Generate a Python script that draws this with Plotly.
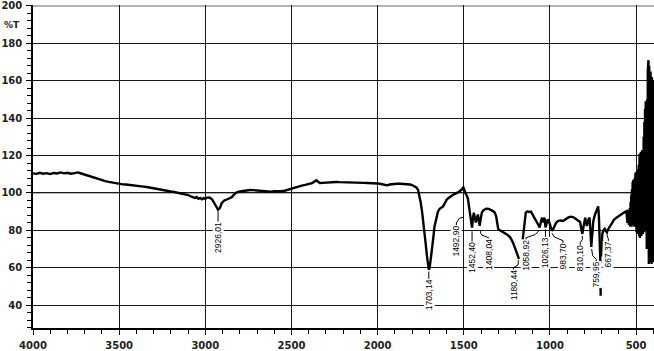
import plotly.graph_objects as go

# ---------------- data ----------------
wavenumber = [
    4000, 3980, 3960, 3940, 3920, 3900, 3880, 3860, 3840, 3820, 3800, 3780, 3760, 3740, 3720,
    3700, 3680, 3660, 3640, 3620, 3600, 3580, 3560, 3540, 3520, 3500, 3480, 3460, 3440, 3420,
    3400, 3380, 3360, 3340, 3320, 3300, 3280, 3260, 3240, 3220, 3200, 3180, 3160, 3140, 3120,
    3100, 3080, 3060, 3050, 3040, 3030, 3020, 3010, 3000, 2990, 2975, 2960, 2945, 2935, 2926,
    2915, 2905, 2890, 2875, 2860, 2845, 2835, 2820, 2800, 2780, 2760, 2740, 2720, 2700, 2680,
    2660, 2640, 2620, 2600, 2580, 2560, 2540, 2520, 2500, 2480, 2460, 2440, 2420, 2400, 2380,
    2365, 2355, 2345, 2335, 2320, 2300, 2280, 2260, 2240, 2220, 2200, 2180, 2160, 2140, 2120,
    2100, 2080, 2060, 2040, 2020, 2000, 1980, 1960, 1945, 1930, 1910, 1890, 1870, 1850, 1830,
    1810, 1795, 1785, 1775, 1765, 1758, 1750, 1742, 1735, 1728, 1720, 1714, 1708, 1703, 1698,
    1692, 1686, 1678, 1670, 1660, 1650, 1640, 1630, 1620, 1610, 1600, 1590, 1580, 1570, 1560,
    1550, 1540, 1530, 1520, 1510, 1503, 1498, 1493, 1488, 1482, 1476, 1470, 1465, 1460, 1455,
    1452, 1448, 1442, 1436, 1430, 1424, 1418, 1413, 1408, 1402, 1395, 1385, 1370, 1355, 1340,
    1330, 1320, 1312, 1306, 1300, 1290, 1275, 1260, 1245, 1232, 1220, 1205, 1195, 1185, 1180,
    None,
    1160, 1155, 1148, 1140, 1130, 1120, 1110, 1100, 1090, 1078, 1068, 1060, 1052, 1046, 1040,
    1034, 1030, 1026, 1018, 1012, 1005, 1000, 994, 988, 982, 975, 965, 953, 940, 924,
    910, 895, 880, 866, 855, 847, 835, 825, 818, 812, 806, 800, 795, 790, 785,
    778, 770, 765, 762, 760, 757, 752, 748, 740, 730, 724, 720, 716, 712, 709, 707,
    None,
    706, 705.5,
    None,
    703, 700, 696, 690, 682, 675, 669, 665, 658, 650, 643, 630, 614, 600, 585, 570,
    556, 554, 552, 550, 548, 546, 544, 542, 540, 538, 536, 534, 532, 530, 528, 526, 524, 522,
    520, 518, 516, 514, 512, 510, 508, 506, 504, 502, 500, 498, 496, 494, 492, 490, 488, 486,
    484, 482, 480, 478, 476, 474, 472, 470, 468, 466, 464, 462, 460, 458, 456, 454, 452, 450,
    448, 446, 444, 442, 440, 438, 436, 434, 432, 430, 428, 426, 424, 422, 420, 418, 416, 414,
    412, 410, 408, 406, 404, 402, 400, 398, 396,
]
transmittance = [
    110.5, 110.2, 110.8, 110.3, 110.6, 110.1, 110.7, 110.4, 111.0, 110.5, 110.8, 110.3, 110.6, 111.0, 110.4,
    109.8, 109.0, 108.5, 108.0, 107.3, 106.8, 106.3, 105.9, 105.5, 105.2, 104.9, 104.6, 104.5, 104.2, 104.0,
    103.9, 103.6, 103.4, 103.2, 102.8, 102.4, 102.1, 101.7, 101.4, 101.1, 100.8, 100.5, 100.2, 99.9, 99.4,
    98.9, 98.0, 97.3, 97.8, 96.9, 97.4, 96.6, 97.2, 96.8, 97.5, 97.6, 96.5, 94.5, 92.5, 91.0,
    92.0, 94.5, 96.0, 96.5, 97.3, 97.8, 99.0, 100.2, 100.8, 101.2, 101.4, 101.6, 101.5, 101.3, 101.0,
    100.8, 100.6, 100.7, 100.9, 100.8, 100.9, 101.2, 101.8, 102.4, 103.0, 103.5, 103.9, 104.3, 104.7, 105.3,
    106.2, 106.8, 106.0, 105.3, 105.4, 105.6, 105.8, 105.9, 105.9, 105.8, 105.8, 105.7, 105.6, 105.6, 105.5,
    105.5, 105.4, 105.3, 105.3, 105.2, 105.1, 104.8, 104.4, 104.1, 104.5, 104.8, 104.9, 104.9, 104.9, 104.8,
    104.5, 104.0, 103.4, 103.0, 101.5, 99.0, 95.0, 90.0, 85.0, 79.0, 72.0, 66.5, 62.0, 59.0, 60.0,
    64.0, 68.5, 75.0, 82.0, 87.0, 90.0, 91.5, 92.0, 92.8, 94.5, 96.3, 97.2, 98.0, 98.8, 99.2,
    99.5, 99.8, 100.5, 101.2, 102.0, 103.2, 101.5, 100.5, 99.5, 98.5, 97.0, 93.0, 89.0, 85.0, 82.0,
    81.5, 85.5, 89.4, 87.0, 84.2, 86.5, 88.5, 85.5, 82.4, 86.0, 89.5, 90.8, 91.6, 91.5, 91.0,
    90.3, 89.5, 87.5, 84.0, 80.8, 80.0, 79.2, 78.3, 77.5, 76.4, 74.5, 71.2, 68.5, 65.5, 64.8,
    None,
    73.5, 78.0, 85.0, 89.5, 90.2, 89.8, 90.0, 88.5, 87.0, 85.0, 83.0, 81.6, 85.5, 86.8, 84.2,
    86.8, 86.0, 81.6, 84.0, 85.9, 84.5, 83.3, 81.0, 79.8, 80.5, 82.0, 84.0, 85.0, 85.3, 85.0,
    86.0, 86.8, 87.3, 87.1, 86.5, 85.9, 85.2, 84.5, 81.0, 78.1, 81.5, 86.0, 86.8, 84.0, 82.4,
    85.5, 86.8, 80.0, 74.0, 71.2, 75.0, 82.0, 85.0, 88.0, 90.2, 92.0, 92.8, 88.0, 75.0, 65.0, 62.5,
    None,
    49.5, 45.0,
    None,
    66.0, 73.0, 78.1, 80.0, 80.8, 79.5, 79.0, 80.0, 81.5, 82.5, 83.3, 85.5, 86.8, 87.8, 88.5, 89.5,
    90.2, 86.0, 89.0, 84.0, 90.0, 85.0, 91.0, 83.0, 89.0, 84.0, 92.0, 82.0, 95.0, 83.0, 99.0, 82.0, 102.0, 84.0,
    106.0, 83.0, 107.0, 85.0, 105.0, 82.0, 108.0, 84.0, 110.0, 81.0, 111.0, 79.0, 109.0, 80.0, 112.0, 78.0, 110.0, 81.0,
    115.0, 77.0, 121.0, 76.0, 118.0, 80.0, 122.0, 77.0, 119.0, 82.0, 123.0, 78.0, 120.0, 81.0, 130.0, 79.0, 138.0, 83.0,
    145.0, 80.0, 149.0, 84.0, 140.0, 70.0, 150.0, 75.0, 165.0, 66.0, 171.0, 62.0, 168.0, 70.0, 160.0, 63.0, 165.0, 72.0,
    158.0, 62.0, 162.0, 68.0, 155.0, 63.0, 160.0, 66.0, 150.0,
]

x_ticks = [4000, 3500, 3000, 2500, 2000, 1500, 1000, 500]
y_ticks = [40, 60, 80, 100, 120, 140, 160, 180, 200]

peak_labels = ["2926,01", "1703,14", "1492,90", "1452,40", "1408,04", "1180,44",
               "1058,92", "1026,13", "983,70", "810,10", "759,95", "667,37"]

# ---------------- label layout (text centre and leader lines) ----------------
label_x = [2926, 1703, 1543, 1448, 1355, 1212, 1139, 1028, 924, 824, 731, 661]
label_y = [76.0, 45.7, 74.2, 65.6, 67.3, 50.9, 66.9, 67.8, 66.0, 65.2, 56.5, 67.3]
leader_x = [
    [2926, 2926],
    [1703, 1703],
    [1543, 1543, 1525, 1500],
    [1452, 1452],
    [1355, 1355, 1395, 1402, 1402],
    [1212, 1212, 1185, 1183],
    [1139, 1139, 1085, 1062],
    [1026, 1026],
    [924, 924, 975, 988],
    [824, 824, 812, 812],
    [731, 731, 752, 758],
    [661, 661, 668, 668],
]
leader_y = [
    [90.0, 84.2],
    [58.0, 53.7],
    [82.2, 84.0, 86.5, 87.0],
    [79.5, 73.6],
    [75.3, 76.0, 77.5, 78.5, 80.0],
    [58.9, 60.0, 61.5, 64.0],
    [74.9, 76.0, 77.8, 80.0],
    [80.5, 75.8],
    [72.9, 74.5, 76.5, 78.5],
    [72.1, 73.5, 75.0, 77.0],
    [63.4, 64.5, 66.5, 70.0],
    [74.2, 75.5, 77.0, 78.5],
]

fig = go.Figure()

fig.add_trace(go.Scatter(
    x=wavenumber, y=transmittance, mode="lines",
    line=dict(color="black", width=2.4), connectgaps=False,
    hoverinfo="skip", showlegend=False,
))

for lx, ly in zip(leader_x, leader_y):
    fig.add_trace(go.Scatter(
        x=lx, y=ly, mode="lines", line=dict(color="black", width=1),
        hoverinfo="skip", showlegend=False,
    ))

for txt, lx, ly in zip(peak_labels, label_x, label_y):
    fig.add_annotation(
        x=lx, y=ly, xref="x", yref="y", text=txt, showarrow=False,
        textangle=-90, xanchor="center", yanchor="middle",
        font=dict(family="Liberation Sans", size=8.5, color="black"),
        bgcolor="white", borderpad=0,
    )

fig.add_annotation(
    x=-0.034, xref="paper", y=189.6, yref="y", text="%T", showarrow=False,
    xanchor="center", yanchor="middle",
    font=dict(family="DejaVu Sans", size=9, color="#222", weight="bold"),
)

# grey lines at 100 and 200
for gy in [100, 200]:
    fig.add_shape(type="line", xref="paper", x0=0, x1=1, yref="y", y0=gy, y1=gy,
                  line=dict(color="#9a9a9a", width=1.5), layer="between")

tickfont = dict(family="DejaVu Sans", size=10, color="#222", weight="bold")

fig.update_xaxes(
    range=[4000, 396], tickvals=x_ticks, ticktext=[str(v) for v in x_ticks],
    showgrid=True, gridcolor="#1a1a1a", gridwidth=1.2,
    showline=True, linecolor="black", linewidth=1.5,
    ticks="outside", ticklen=5, tickwidth=1, tickcolor="black",
    tickfont=tickfont, ticklabelstandoff=2, ticklabeloverflow="allow",
    minor=dict(dtick=100, tick0=0, ticks="outside", ticklen=4, tickcolor="black",
               tickwidth=1, showgrid=False),
    zeroline=False,
)
fig.update_yaxes(
    range=[27.8, 200.5], tickvals=y_ticks, ticktext=[str(v) for v in y_ticks],
    showgrid=True, gridcolor="#1a1a1a", gridwidth=1,
    showline=True, linecolor="black", linewidth=1.5,
    ticks="outside", ticklen=5, tickwidth=1, tickcolor="black",
    tickfont=tickfont, ticklabelstandoff=2, ticklabeloverflow="allow",
    minor=dict(dtick=4, tick0=0, ticks="outside", ticklen=4, tickcolor="black",
               tickwidth=1, showgrid=False),
    zeroline=False,
)

fig.update_layout(
    width=654, height=351,
    margin=dict(l=33, r=0, t=1, b=17, pad=0),
    paper_bgcolor="white", plot_bgcolor="white",
    showlegend=False,
)

fig.write_html("out.html", include_plotlyjs=True, full_html=True,
               config={"displayModeBar": False})
